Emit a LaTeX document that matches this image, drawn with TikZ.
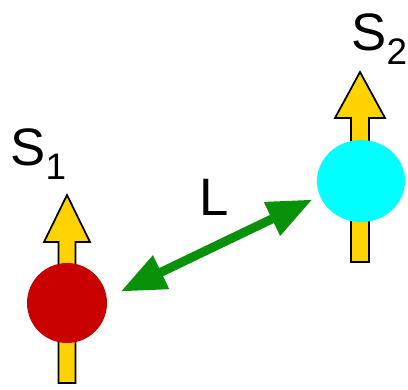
\documentclass[tikz,border=0pt]{standalone}
\usepackage{fontspec}
\setmainfont{Liberation Sans}
\usetikzlibrary{arrows.meta, shapes.geometric}

\definecolor{spinyellow}{RGB}{255,210,0}
\definecolor{darkred}{RGB}{200,0,0}
\definecolor{lightcyan}{RGB}{0,255,255}
\definecolor{linkgreen}{RGB}{10,145,10}

\tikzset{
  spinarrow/.style={draw=black, fill=spinyellow, line width=1pt, line join=miter},
  label/.style={inner sep=0pt, anchor=base west, font=\fontsize{30}{36}\selectfont},
  link/.style={draw=linkgreen, line width=0.18cm,
    {Triangle[length=0.9cm,width=0.7cm]}-{Triangle[length=0.9cm,width=0.7cm]}}
}

\newcommand{\sub}[1]{{\fontsize{21}{24}\selectfont\raisebox{-8pt}{#1}}}

\begin{document}
\begin{tikzpicture}[x=0.02cm,y=-0.02cm]
  \useasboundingbox (0,0) rectangle (408,389);
  % spin arrows (behind the particles)
  \draw[spinarrow] (58.5,383) -- (58.5,242) -- (44,242) -- (67,195)
    -- (90,242) -- (75.5,242) -- (75.5,383) -- cycle;
  \draw[spinarrow] (351,262) -- (351,118) -- (335,118) -- (360,72)
    -- (385,118) -- (369,118) -- (369,262) -- cycle;
  % particles
  \node[circle, fill=darkred, minimum size=1.6cm, inner sep=0pt] (p1) at (67,303) {};
  \node[ellipse, fill=lightcyan, minimum width=1.76cm, minimum height=1.64cm, inner sep=0pt] (p2) at (361,181) {};
  % distance
  \draw[link, shorten <=0.3cm, shorten >=0.16cm] (p1.7) -- (p2.200);
  % labels
  \node[label] (s1) at (10,165) {S\sub{1}};
  \node[label] (s2) at (351,50) {S\sub{2}};
  \node[label] (len) at (199,215) {L};
\end{tikzpicture}
\end{document}
